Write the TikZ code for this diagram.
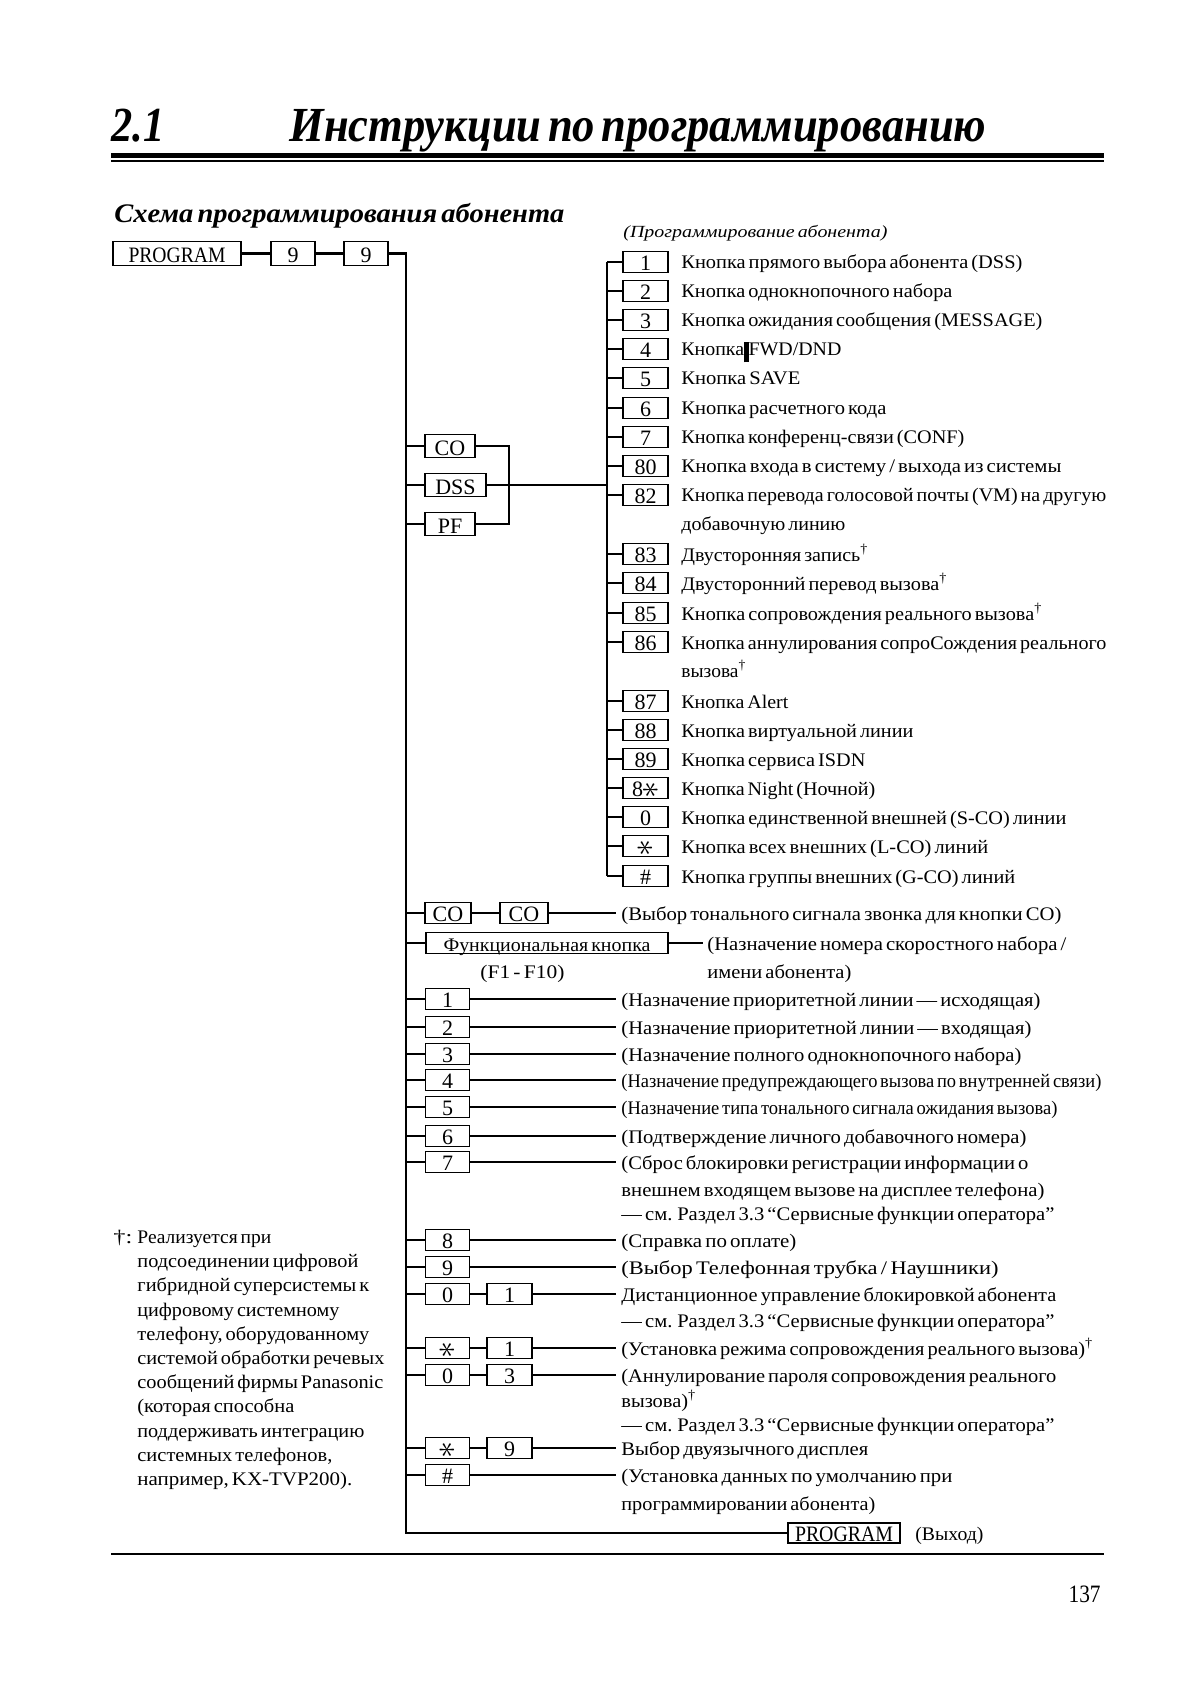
\documentclass[tikz,border=0pt]{standalone}
\usepackage{fontspec}
\setmainfont{Liberation Serif}[WordSpace=0.6]
\newdimen\pxu \pxu=0.5pt
\newcommand{\W}[2]{\resizebox{#1\pxu}{\height}{#2}}
\newcommand{\kst}{\raisebox{-0.08em}{\scalebox{1.55}{\rotatebox{90}{$\ast$}}}}
\newcommand{\tf}{\fontsize{9.6pt}{12pt}\selectfont}
\newcommand{\boxfnt}{\fontsize{11pt}{12pt}\selectfont}
\tikzset{
  conn/.style={line width=1.1pt},
  kbox/.style={draw, line width=0.55pt, inner sep=0pt, minimum height=10.4pt, text height=8.6pt, text depth=0pt, font=\boxfnt},
  ib/.style={kbox, minimum width=22.5pt},
  lb/.style={kbox, minimum width=22pt},
  lbl/.style={anchor=west, inner sep=0pt, text height=8.5pt, text depth=1.5pt, font=\tf},
  rulet/.style={line width=2.6pt},
}
\begin{document}
\begin{tikzpicture}[x=0.5pt,y=-0.5pt]
\fill[white] (0,0) rectangle (1190,1684);
\useasboundingbox (0,0) rectangle (1190,1684);
% header
\node[anchor=base west, inner sep=0pt, font=\bfseries\itshape\fontsize{24.5pt}{30pt}\selectfont] (sec) at (111,142) {\W{53}{2.1}};
\node[anchor=base west, inner sep=0pt, font=\bfseries\itshape\fontsize{24.5pt}{30pt}\selectfont] (title) at (289,142) {\W{697}{Инструкции по программированию}};
\draw[rulet] (111,155.8) -- (1104,155.8);
\draw[line width=1pt] (111,161.5) -- (1104,161.5);
\node[anchor=base west, inner sep=0pt, font=\bfseries\itshape\fontsize{13.4pt}{16pt}\selectfont] (sub) at (114,223) {\W{450}{Схема программирования абонента}};
\node[anchor=base west, inner sep=0pt, font=\itshape\fontsize{8.5pt}{10pt}\selectfont] (subr) at (623,238) {\W{264}{(Программирование абонента)}};
% top chain
\node[kbox, minimum width=64pt, minimum height=12pt, text height=9pt] (prog) at (177,253.5) {\W{97}{PROGRAM}};
\node[kbox, minimum width=22pt, minimum height=12pt, text height=9pt] (n9a) at (293,253.5) {9};
\node[kbox, minimum width=22pt, minimum height=12pt, text height=9pt] (n9b) at (366,253.5) {9};
\coordinate (mtop) at (406,253.5);
\coordinate (mbot) at (406,1533);
\coordinate (j) at (509,485);
\coordinate (rtop) at (607,262);
\coordinate (rbot) at (607,876);
\coordinate (lend) at (616,0);
\coordinate (fkend) at (703,0);
% CO DSS PF
\node[kbox, minimum width=25pt, minimum height=11.5pt, text height=9pt] (co) at (450,446) {CO};
\node[kbox, minimum width=30.5pt, minimum height=11.5pt, text height=9pt] (dss) at (455.5,485) {DSS};
\node[kbox, minimum width=25pt, minimum height=11.5pt, text height=9pt] (pf) at (450,524) {PF};
% upper items
\node[ib] (ub1) at (645.5,262) {1};
\node[ib] (ub2) at (645.5,291) {2};
\node[ib] (ub3) at (645.5,320) {3};
\node[ib] (ub4) at (645.5,349) {4};
\node[ib] (ub5) at (645.5,378) {5};
\node[ib] (ub6) at (645.5,408) {6};
\node[ib] (ub7) at (645.5,437) {7};
\node[ib] (ub80) at (645.5,466) {80};
\node[ib] (ub82) at (645.5,495) {82};
\node[ib] (ub83) at (645.5,554) {83};
\node[ib] (ub84) at (645.5,583) {84};
\node[ib] (ub85) at (645.5,613) {85};
\node[ib] (ub86) at (645.5,642) {86};
\node[ib] (ub87) at (645.5,701) {87};
\node[ib] (ub88) at (645.5,730) {88};
\node[ib] (ub89) at (645.5,759) {89};
\node[ib] (ub8s) at (645.5,788) {8\kst};
\node[ib] (ub0) at (645.5,817) {0};
\node[ib] (ubs) at (645.5,846) {\kst};
\node[ib] (ubh) at (645.5,876) {\#};
\node[lbl] (ut1) at (681,262) {\W{341}{Кнопка прямого выбора абонента (DSS)}};
\node[lbl] (ut2) at (681,291) {\W{271}{Кнопка однокнопочного набора}};
\node[lbl] (ut3) at (681,320) {\W{361}{Кнопка ожидания сообщения (MESSAGE)}};
\node[lbl] (ut4) at (681,349) {\W{160}{Кнопка\rule[-3.2pt]{2.2pt}{10pt}FWD/DND}};
\node[lbl] (ut5) at (681,378) {\W{119}{Кнопка SAVE}};
\node[lbl] (ut6) at (681,408) {\W{205}{Кнопка расчетного кода}};
\node[lbl] (ut7) at (681,437) {\W{283}{Кнопка конференц-связи (CONF)}};
\node[lbl] (ut80) at (681,466) {\W{380}{Кнопка входа в систему / выхода из системы}};
\node[lbl] (ut82) at (681,495) {\W{425}{Кнопка перевода голосовой почты (VM) на другую}};
\node[lbl] (ut82b) at (681,523) {\W{164}{добавочную линию}};
\node[lbl] (ut83) at (681,554) {\W{187}{Двусторонняя запись\textsuperscript{†}}};
\node[lbl] (ut84) at (681,583) {\W{266}{Двусторонний перевод вызова\textsuperscript{†}}};
\node[lbl] (ut85) at (681,613) {\W{361}{Кнопка сопровождения реального вызова\textsuperscript{†}}};
\node[lbl] (ut86) at (681,642) {\W{425}{Кнопка аннулирования сопроСождения реального}};
\node[lbl] (ut86b) at (681,670) {\W{65}{вызова\textsuperscript{†}}};
\node[lbl] (ut87) at (681,701) {\W{107}{Кнопка Alert}};
\node[lbl] (ut88) at (681,730) {\W{232}{Кнопка виртуальной линии}};
\node[lbl] (ut89) at (681,759) {\W{184}{Кнопка сервиса ISDN}};
\node[lbl] (ut8s) at (681,788) {\W{194}{Кнопка Night (Ночной)}};
\node[lbl] (ut0) at (681,817) {\W{385}{Кнопка единственной внешней (S-CO) линии}};
\node[lbl] (uts) at (681,846) {\W{307}{Кнопка всех внешних (L-CO) линий}};
\node[lbl] (uth) at (681,876) {\W{334}{Кнопка группы внешних (G-CO) линий}};
% lower items
\node[lb, minimum width=23pt] (co1) at (448,913) {CO};
\node[lb, minimum width=24pt] (co2) at (524,913) {CO};
\node[lbl] (tco) at (621,913) {\W{440}{(Выбор тонального сигнала звонка для кнопки CO)}};
\node[kbox, minimum width=121pt, font=\tf] (fk) at (547,943) {\W{207}{Функциональная кнопка}};
\node[lbl] (tfk) at (707,943) {\W{359}{(Назначение номера скоростного набора /}};
\node[lbl] (tfkb) at (707,971) {\W{144}{имени абонента)}};
\node[lbl] (f110) at (480,971) {\W{84}{(F1 - F10)}};
\node[lb] (l1) at (447.5,999) {1};
\node[lbl] (tl1) at (621,999) {\W{419}{(Назначение приоритетной линии — исходящая)}};
\node[lb] (l2) at (447.5,1027) {2};
\node[lbl] (tl2) at (621,1027) {\W{410}{(Назначение приоритетной линии — входящая)}};
\node[lb] (l3) at (447.5,1054) {3};
\node[lbl] (tl3) at (621,1054) {\W{400}{(Назначение полного однокнопочного набора)}};
\node[lb] (l4) at (447.5,1080) {4};
\node[lbl] (tl4) at (621,1080) {\W{480}{(Назначение предупреждающего вызова по внутренней связи)}};
\node[lb] (l5) at (447.5,1107) {5};
\node[lbl] (tl5) at (621,1107) {\W{436}{(Назначение типа тонального сигнала ожидания вызова)}};
\node[lb] (l6) at (447.5,1136) {6};
\node[lbl] (tl6) at (621,1136) {\W{405}{(Подтверждение личного добавочного номера)}};
\node[lb] (l7) at (447.5,1162) {7};
\node[lbl] (tl7) at (621,1162) {\W{407}{(Сброс блокировки регистрации информации о}};
\node[lbl] (tl7b) at (621,1189) {\W{423}{внешнем входящем вызове на дисплее телефона)}};
\node[lbl] (tl7c) at (621,1213) {\W{433}{— см. Раздел 3.3 “Сервисные функции оператора”}};
\node[lb] (l8) at (447.5,1240) {8};
\node[lbl] (tl8) at (621,1240) {\W{175}{(Справка по оплате)}};
\node[lb] (l9) at (447.5,1267) {9};
\node[lbl] (tl9) at (621,1267) {\W{377}{(Выбор Телефонная трубка / Наушники)}};
\node[lb] (l01a) at (447.5,1294) {0};
\node[lb, minimum width=22.5pt] (l01b) at (509.5,1294) {1};
\node[lbl] (tl01) at (621,1294) {\W{435}{Дистанционное управление блокировкой абонента}};
\node[lbl] (tl01b) at (621,1320) {\W{433}{— см. Раздел 3.3 “Сервисные функции оператора”}};
\node[lb] (ls1a) at (447.5,1348) {\kst};
\node[lb, minimum width=22.5pt] (ls1b) at (509.5,1348) {1};
\node[lbl] (tls1) at (621,1348) {\W{472}{(Установка режима сопровождения реального вызова)\textsuperscript{†}}};
\node[lb] (l03a) at (447.5,1375) {0};
\node[lb, minimum width=22.5pt] (l03b) at (509.5,1375) {3};
\node[lbl] (tl03) at (621,1375) {\W{435}{(Аннулирование пароля сопровождения реального}};
\node[lbl] (tl03b) at (621,1400) {\W{75}{вызова)\textsuperscript{†}}};
\node[lbl] (tl03c) at (621,1424) {\W{433}{— см. Раздел 3.3 “Сервисные функции оператора”}};
\node[lb] (ls9a) at (447.5,1448) {\kst};
\node[lb, minimum width=22.5pt] (ls9b) at (509.5,1448) {9};
\node[lbl] (tls9) at (621,1448) {\W{247}{Выбор двуязычного дисплея}};
\node[lb] (lh) at (447.5,1475) {\#};
\node[lbl] (tlh) at (621,1475) {\W{331}{(Установка данных по умолчанию при}};
\node[lbl] (tlhb) at (621,1503) {\W{254}{программировании абонента)}};
\node[kbox, minimum width=56pt, minimum height=10pt] (px) at (844,1533) {\W{98}{PROGRAM}};
\node[lbl] (tpx) at (915,1533) {\W{68}{(Выход)}};
% footnote
\node[lbl] (fn0) at (113,1236) {\W{19}{†:}};
\node[lbl] (fn1) at (137,1236) {\W{134}{Реализуется при}};
\node[lbl] (fn2) at (137,1260) {\W{221}{подсоединении цифровой}};
\node[lbl] (fn3) at (137,1284) {\W{232}{гибридной суперсистемы к}};
\node[lbl] (fn4) at (137,1309) {\W{202}{цифровому системному}};
\node[lbl] (fn5) at (137,1333) {\W{232}{телефону, оборудованному}};
\node[lbl] (fn6) at (137,1357) {\W{247}{системой обработки речевых}};
\node[lbl] (fn7) at (137,1381) {\W{246}{сообщений фирмы Panasonic}};
\node[lbl] (fn8) at (137,1405) {\W{157}{(которая способна}};
\node[lbl] (fn9) at (137,1430) {\W{227}{поддерживать интеграцию}};
\node[lbl] (fn10) at (137,1454) {\W{195}{системных телефонов,}};
\node[lbl] (fn11) at (137,1478) {\W{215}{например, KX-TVP200).}};
% bottom rule and page number
\draw[line width=1.3pt] (111,1554) -- (1104,1554);
\node[anchor=base east, inner sep=0pt, font=\fontsize{12.5pt}{14pt}\selectfont] (pg) at (1101,1602) {\W{32}{137}};
% connectors
\draw[conn] (prog) -- (n9a);
\draw[conn] (n9a) -- (n9b);
\draw[conn] (n9b) -- (mtop) -- (mbot) -- (px);
\draw[conn] (co -| mtop) -- (co);
\draw[conn] (dss -| mtop) -- (dss);
\draw[conn] (pf -| mtop) -- (pf);
\draw[conn] (co) -| (j);
\draw[conn] (pf) -| (j);
\draw[conn] (dss) -- (dss -| rtop);
\draw[conn] (rtop) -- (rbot);
\foreach \n in {ub1,ub2,ub3,ub4,ub5,ub6,ub7,ub80,ub82,ub83,ub84,ub85,ub86,ub87,ub88,ub89,ub8s,ub0,ubs,ubh}
  \draw[conn] (\n -| rtop) -- (\n);
\draw[conn] (co1 -| mtop) -- (co1);
\draw[conn] (co1) -- (co2);
\draw[conn] (co2) -- (co2 -| lend);
\draw[conn] (fk -| mtop) -- (fk);
\draw[conn] (fk) -- (fk -| fkend);
\foreach \n in {l1,l2,l3,l4,l5,l6,l7,l8,l9,lh}
  \draw[conn] (\n -| mtop) -- (\n) -- (\n -| lend);
\foreach \a/\b in {l01a/l01b,ls1a/ls1b,l03a/l03b,ls9a/ls9b}
  \draw[conn] (\a -| mtop) -- (\a) -- (\b) -- (\b -| lend);
\end{tikzpicture}
\end{document}
